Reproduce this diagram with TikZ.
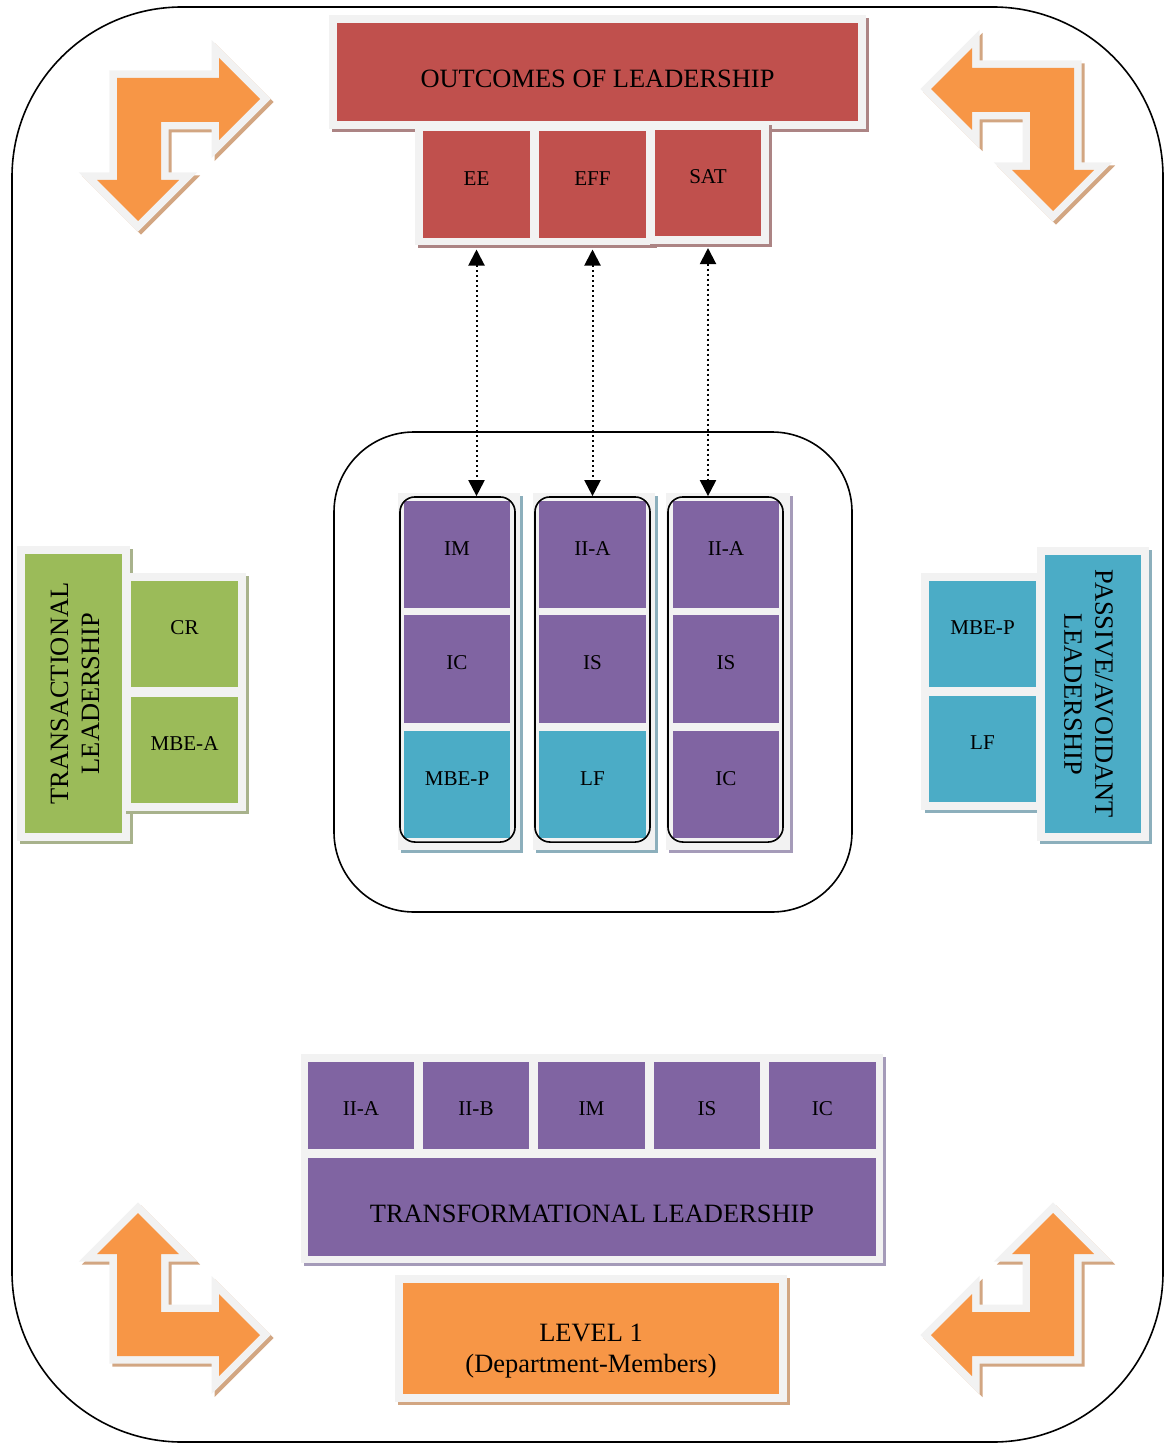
\documentclass[tikz,border=0pt]{standalone}
\usepackage{fontspec}
\setmainfont{Liberation Serif}
\usepackage{tikz}
\usetikzlibrary{arrows.meta, shadows, calc}
\definecolor{framegray}{HTML}{F2F2F2}
\definecolor{outred}{HTML}{C0504D}
\definecolor{redshade}{RGB}{172,132,132}
\definecolor{tfpurple}{HTML}{8064A2}
\definecolor{purpleshade}{RGB}{165,155,185}
\definecolor{tagreen}{HTML}{9BBB59}
\definecolor{greenshade}{RGB}{168,178,140}
\definecolor{pablue}{HTML}{4BACC6}
\definecolor{blueshade}{RGB}{140,175,188}
\definecolor{lvorange}{HTML}{F79646}
\definecolor{orangeshade}{RGB}{210,166,130}
\newcommand{\bentpath}{(0,0) -- (102,0) -- (102,-20) -- (143,21) -- (102,62) -- (102,44) -- (44,44) -- (44,102) -- (62,102) -- (21,143) -- (-20,102) -- (0,102) -- cycle}
\newcommand{\bentarrow}[4]
{
	\draw[arrowshade, shift={({#1+3},{#2+3})}, xscale=#3, yscale=#4] \bentpath;
	\fill[arrowbody, shift={(#1,#2)}, xscale=#3, yscale=#4] \bentpath;
}
\newcommand{\vtext}[2]{\rotatebox{#1}{\begin{tabular}{@{}c@{}}#2\end{tabular}}}

\begin{document}
\begin{tikzpicture}[x=0.025cm, y=-0.025cm,
	every node/.append style={inner sep=0pt, align=center},
	small/.style={font=\fontsize{15}{18}\selectfont, text height=10pt, text depth=8.6pt},
	rowtext/.style={font=\fontsize{15}{18}\selectfont, text height=14.1pt, text depth=0pt},
	big/.style={font=\fontsize{18.8}{22}\selectfont},
	bigline/.style={big, text height=22.4pt, text depth=0pt},
	tile/.style 2 args={fill=#1, draw=framegray, line width=0.19cm,
		drop shadow={shadow xshift=0.075cm, shadow yshift=-0.075cm,
			opacity=1, fill=#2, draw=#2, line width=0.19cm}},
	panel/.style={fill=framegray, drop shadow={shadow xshift=0.075cm,
		shadow yshift=-0.075cm, opacity=1, fill=#1}},
	flat/.style={fill=#1},
	cellsize/.style={minimum width=2.86cm, minimum height=2.84cm},
	midcell/.style={minimum width=2.65cm, minimum height=2.675cm},
	rowcell/.style={minimum width=2.65cm, minimum height=2.175cm},
	colframe/.style={draw=black, line width=0.04cm, rounded corners=0.375cm,
		minimum width=2.875cm, minimum height=8.625cm},
	link/.style={dash pattern=on 0.05cm off 0.075cm, line width=0.05cm, shorten <=0.11cm,
		{Triangle[length=0.4cm, width=0.4cm]}-{Triangle[length=0.4cm, width=0.4cm]}},
	arrowshade/.style={draw=orangeshade, fill=orangeshade, line width=0.375cm, line join=miter},
	arrowbody/.style={fill=lvorange, preaction={draw=framegray, line width=0.375cm, line join=miter}}]

	\useasboundingbox (0,0) rectangle (1165,1444);
	\draw[line width=0.04cm, rounded corners=4.25cm] (12,7) rectangle (1163,1442);
	\draw[line width=0.04cm, rounded corners=2cm] (334,432) rectangle (852,912);

	% corner arrows
	\bentarrow{117}{78}{1}{1}
	\bentarrow{1074}{68}{-1}{1}
	\bentarrow{117}{1356}{1}{-1}
	\bentarrow{1074}{1356}{-1}{-1}

	% outcomes
	\node[tile={outred}{redshade}, bigline, minimum width=13.21cm, minimum height=2.64cm] at (597.5, 72) (out){OUTCOMES OF LEADERSHIP};
	\node[tile={outred}{redshade}, small, cellsize] at (476.5, 184.5) (ee){EE};
	\node[tile={outred}{redshade}, small, cellsize] at (592.5, 184.5) (eff){EFF};
	\node[tile={outred}{redshade}, small, cellsize] at (708, 183) (sat){SAT};

	% transactional
	\node[tile={tagreen}{greenshade}, big, minimum width=2.61cm, minimum height=7.16cm] at (73.5, 693.5) (ta){\hspace*{0.2cm}\vtext{90}{TRANSACTIONAL\\LEADERSHIP}};
	\node[tile={tagreen}{greenshade}, small, cellsize] at (184.5, 634) (cr){CR};
	\node[tile={tagreen}{greenshade}, small, cellsize] at (184.5, 750) (mbea){MBE-A};

	% passive/avoidant
	\node[tile={pablue}{blueshade}, small, cellsize] at (982.5, 634) (mbep){MBE-P};
	\node[tile={pablue}{blueshade}, small, cellsize] at (982.5, 749) (lf){LF};
	\node[tile={pablue}{blueshade}, big, minimum width=2.6cm, minimum height=7.15cm] at (1093, 694) (pa){\vtext{-90}{PASSIVE/AVOIDANT\\LEADERSHIP}\hspace*{0.35cm}};

	% columns
	\node[panel=blueshade, minimum width=3.05cm, minimum height=8.925cm] at (459, 671.5) (p1){};
	\node[flat=tfpurple, small, midcell] at (457, 554.5) (c1a){IM};
	\node[flat=tfpurple, small, midcell] at (457, 669) (c1b){IC};
	\node[flat=pablue, small, midcell] at (457, 784.5) (c1c){MBE-P};
	\node[colframe] at (457.5, 669.5) (c1){};

	\node[panel=blueshade, minimum width=3.05cm, minimum height=8.925cm] at (594, 671.5) (p2){};
	\node[flat=tfpurple, small, midcell] at (592.5, 554.5) (c2a){II-A};
	\node[flat=tfpurple, small, midcell] at (592.5, 669) (c2b){IS};
	\node[flat=pablue, small, midcell] at (592.5, 784.5) (c2c){LF};
	\node[colframe] at (592.5, 669.5) (c2){};

	\node[panel=purpleshade, minimum width=3.1cm, minimum height=8.925cm] at (728, 671.5) (p3){};
	\node[flat=tfpurple, small, midcell] at (726, 554.5) (c3a){II-A};
	\node[flat=tfpurple, small, midcell] at (726, 669) (c3b){IS};
	\node[flat=tfpurple, small, midcell] at (726, 784.5) (c3c){IC};
	\node[colframe] at (725.5, 669.5) (c3){};

	\draw[link] (ee.south) -- (ee.south |- c1.north);
	\draw[link] (eff.south) -- (eff.south |- c2.north);
	\draw[link] (sat.south) -- (sat.south |- c3.north);

	% transformational
	\node[panel=purpleshade, minimum width=14.55cm, minimum height=5.225cm] at (592, 1158.5) (tp){};
	\node[flat=tfpurple, rowtext, rowcell] at (361, 1105.5) (iia){II-A};
	\node[flat=tfpurple, rowtext, rowcell] at (476, 1105.5) (iib){II-B};
	\node[flat=tfpurple, rowtext, rowcell] at (591.5, 1105.5) (im){IM};
	\node[flat=tfpurple, rowtext, rowcell] at (707, 1105.5) (is){IS};
	\node[flat=tfpurple, rowtext, rowcell] at (822.5, 1105.5) (ic){IC};
	\node[flat=tfpurple, bigline, minimum width=14.2cm, minimum height=2.45cm] at (592, 1207) (tf){TRANSFORMATIONAL LEADERSHIP};

	% level
	\node[tile={lvorange}{orangeshade}, big, minimum width=9.59cm, minimum height=2.96cm] at (591, 1338.5) (lv){\raisebox{-0.47cm}[0pt][0pt]{\vtext{0}{LEVEL 1\\(Department-Members)}}};
\end{tikzpicture}
\end{document}
